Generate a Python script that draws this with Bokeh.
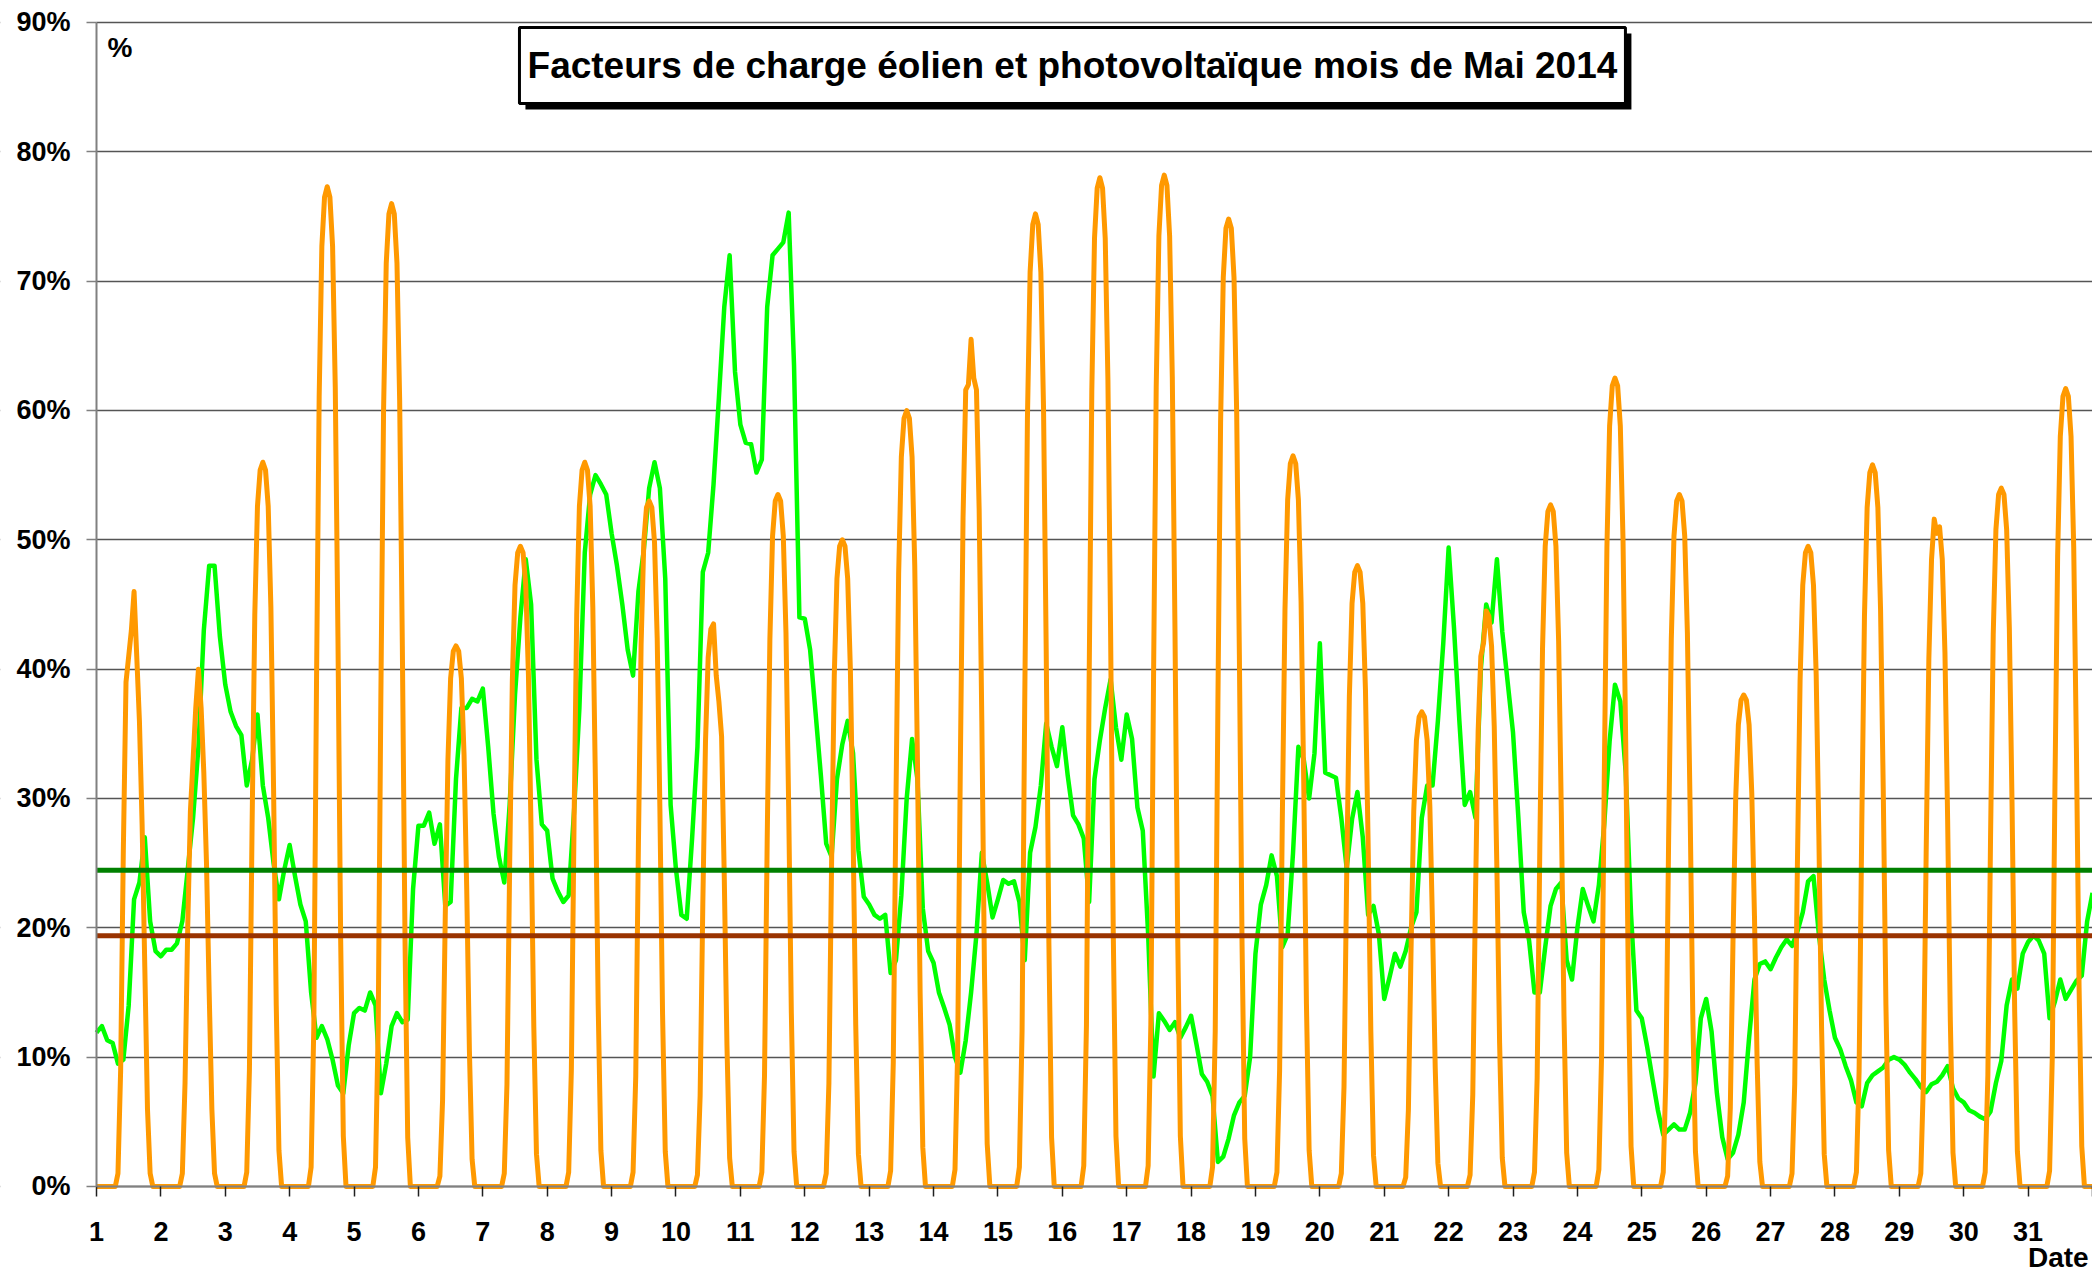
from bokeh.plotting import figure
from bokeh.models import Range1d, FixedTicker, PrintfTickFormatter, Label, BoxAnnotation
from bokeh.embed import file_html
from bokeh.resources import INLINE

# ---------------- data ----------------
days = list(range(1, 32))
wind_hours = [0, 2, 4, 6, 8, 10, 12, 14, 16, 18, 20, 22]
solar_hours = [8, 9, 10, 11, 12, 13, 14, 15, 16, 17, 18, 19, 20]

# wind load factor (%), one row per day, every 2 hours
wind_load = [
    [11.9, 12.4, 11.3, 11.1, 9.5, 9.8, 14.0, 22.2, 23.5, 27.0, 20.5, 18.2],
    [17.8, 18.3, 18.3, 18.8, 20.5, 24.5, 28.5, 34.0, 43.0, 48.0, 48.0, 42.5],
    [38.8, 36.7, 35.6, 34.9, 31.0, 33.0, 36.5, 31.0, 28.5, 25.0, 22.2, 24.5],
    [26.4, 24.0, 21.8, 20.5, 15.0, 11.5, 12.4, 11.4, 9.8, 7.8, 7.2, 10.9],
    [13.4, 13.8, 13.6, 15.0, 14.0, 7.2, 9.5, 12.4, 13.4, 12.7, 12.9, 23.0],
    [27.9, 27.9, 28.9, 26.5, 28.0, 21.7, 22.0, 31.5, 37.0, 37.0, 37.7, 37.5],
    [38.5, 34.0, 28.8, 25.5, 23.5, 29.5, 38.0, 44.0, 48.5, 45.0, 33.0, 28.0],
    [27.5, 23.8, 22.8, 22.0, 22.5, 29.0, 37.0, 49.0, 53.5, 55.0, 54.3, 53.5],
    [50.5, 48.0, 45.0, 41.5, 39.5, 46.0, 49.2, 54.0, 56.0, 54.0, 47.0, 29.5],
    [24.5, 21.0, 20.7, 26.9, 34.0, 47.5, 49.0, 54.3, 61.0, 68.0, 72.0, 63.0],
    [58.9, 57.5, 57.4, 55.2, 56.2, 68.0, 72.0, 72.5, 73.0, 75.3, 63.5, 44.0],
    [43.9, 41.5, 36.7, 31.8, 26.5, 25.5, 31.5, 34.2, 36.0, 33.5, 26.0, 22.4],
    [21.8, 21.0, 20.7, 21.0, 16.5, 17.5, 22.5, 30.0, 34.6, 31.5, 21.5, 18.2],
    [17.3, 15.0, 13.8, 12.5, 10.0, 8.8, 11.3, 15.0, 19.5, 25.8, 23.5, 20.8],
    [22.2, 23.7, 23.4, 23.6, 22.0, 17.5, 25.8, 27.8, 31.0, 35.8, 34.0, 32.5],
    [35.5, 31.8, 28.7, 28.0, 26.9, 22.0, 31.5, 34.5, 37.0, 39.2, 35.5, 33.0],
    [36.5, 34.6, 29.3, 27.5, 19.5, 8.5, 13.4, 12.8, 12.1, 12.7, 11.5, 12.3],
    [13.2, 11.0, 8.7, 8.1, 7.0, 1.9, 2.3, 3.7, 5.5, 6.5, 7.0, 10.0],
    [18.0, 21.8, 23.3, 25.6, 24.0, 18.5, 19.5, 25.8, 34.0, 33.0, 30.0, 33.5],
    [42.0, 32.0, 31.8, 31.6, 28.5, 24.6, 28.4, 30.5, 27.0, 21.0, 21.7, 19.5],
    [14.5, 16.2, 18.0, 17.0, 18.2, 20.0, 21.2, 28.5, 31.0, 31.0, 36.0, 42.0],
    [49.4, 43.2, 36.0, 29.5, 30.5, 28.5, 40.0, 45.0, 43.6, 48.5, 42.9, 39.0],
    [35.1, 28.5, 21.2, 19.0, 15.0, 15.0, 18.5, 21.7, 23.0, 23.5, 17.5, 16.0],
    [20.0, 23.0, 21.7, 20.5, 23.3, 28.0, 34.4, 38.8, 37.5, 32.0, 21.0, 13.6],
    [13.0, 10.8, 8.3, 5.9, 4.0, 4.4, 4.8, 4.4, 4.4, 5.7, 8.0, 13.0],
    [14.5, 12.0, 7.2, 3.8, 2.1, 2.6, 4.0, 6.5, 11.5, 16.0, 17.2, 17.4],
    [16.8, 17.7, 18.5, 19.1, 18.6, 19.7, 21.2, 23.6, 24.0, 19.5, 16.0, 13.6],
    [11.5, 10.6, 9.3, 8.2, 6.5, 6.2, 8.0, 8.6, 8.9, 9.2, 9.8, 10.0],
    [9.8, 9.4, 8.8, 8.3, 7.7, 7.3, 7.9, 8.1, 8.6, 9.3, 7.6, 6.8],
    [6.5, 5.9, 5.7, 5.4, 5.2, 5.8, 8.0, 9.7, 14.0, 16.0, 15.3, 18.0],
    [18.9, 19.4, 19.0, 18.0, 13.0, 14.3, 16.0, 14.5, 15.2, 15.9, 16.3, 20.5],
]
wind_end = 22.7  # value at the very end of the month

# photovoltaic load factor (%), hours 8h..20h of each day (0 outside)
solar_load = [
    [1, 9, 26, 39, 41, 43, 46, 41, 36, 28, 17, 6, 1],
    [1, 8, 20, 29, 33, 37, 40, 37, 32, 25, 15, 6, 1],
    [1.1, 9.0, 28.0, 44.2, 52.6, 55.4, 56.0, 55.4, 52.6, 44.8, 30.8, 14.0, 2.8],
    [1.5, 12.4, 38.7, 61.1, 72.7, 76.5, 77.3, 76.5, 72.7, 61.8, 42.5, 19.3, 3.9],
    [1.5, 12.2, 38.0, 60.0, 71.4, 75.2, 76.0, 75.2, 71.4, 60.8, 41.8, 19.0, 3.8],
    [0.8, 6.7, 20.9, 33.0, 39.3, 41.4, 41.8, 41.4, 39.3, 33.4, 23.0, 10.5, 2.1],
    [1.0, 7.9, 24.8, 39.1, 46.5, 49.0, 49.5, 49.0, 46.5, 39.6, 27.2, 12.4, 2.5],
    [1.1, 9.0, 28.0, 44.2, 52.6, 55.4, 56.0, 55.4, 52.6, 44.8, 30.8, 14.0, 2.8],
    [1.1, 8.5, 26.5, 41.9, 49.8, 52.5, 53.0, 52.5, 49.8, 42.4, 29.2, 13.3, 2.7],
    [0.9, 7.0, 21.8, 34.4, 40.9, 43.1, 43.5, 39.5, 37.5, 34.8, 23.9, 10.9, 2.2],
    [1.1, 8.6, 26.8, 42.3, 50.3, 53.0, 53.5, 53.0, 50.3, 42.8, 29.4, 13.4, 2.7],
    [1.0, 8.0, 25.0, 39.5, 47.0, 49.5, 50.0, 49.5, 47.0, 40.0, 27.5, 12.5, 2.5],
    [1.2, 9.6, 30.0, 47.4, 56.4, 59.4, 60.0, 59.4, 56.4, 48.0, 33.0, 15.0, 3.0],
    [1.3, 10.5, 32.8, 51.7, 61.6, 62.0, 65.5, 62.5, 61.6, 52.4, 36.0, 16.4, 3.3],
    [1.5, 12.0, 37.6, 59.4, 70.7, 74.4, 75.2, 74.4, 70.7, 60.2, 41.4, 18.8, 3.8],
    [1.6, 12.5, 39.0, 61.6, 73.3, 77.2, 78.0, 77.2, 73.3, 62.4, 42.9, 19.5, 3.9],
    [1.6, 12.5, 39.1, 61.8, 73.5, 77.4, 78.2, 77.4, 73.5, 62.6, 43.0, 19.6, 3.9],
    [1.5, 12.0, 37.4, 59.1, 70.3, 74.1, 74.8, 74.1, 70.3, 59.8, 41.1, 18.7, 3.7],
    [1.1, 9.0, 28.3, 44.6, 53.1, 55.9, 56.5, 55.9, 53.1, 45.2, 31.1, 14.1, 2.8],
    [1.0, 7.7, 24.0, 37.9, 45.1, 47.5, 48.0, 47.5, 45.1, 38.4, 26.4, 12.0, 2.4],
    [0.7, 5.9, 18.4, 29.0, 34.5, 36.3, 36.7, 36.3, 34.5, 29.4, 20.2, 9.2, 1.8],
    [0.9, 7.1, 22.3, 35.2, 41.0, 42.0, 44.5, 44.1, 41.8, 35.6, 24.5, 11.1, 2.2],
    [1.1, 8.4, 26.4, 41.6, 49.5, 52.2, 52.7, 52.2, 49.5, 42.2, 29.0, 13.2, 2.6],
    [1.3, 10.0, 31.3, 49.4, 58.8, 61.9, 62.5, 61.9, 58.8, 50.0, 34.4, 15.6, 3.1],
    [1.1, 8.6, 26.8, 42.3, 50.3, 53.0, 53.5, 53.0, 50.3, 42.8, 29.4, 13.4, 2.7],
    [0.8, 6.1, 19.0, 30.0, 35.7, 37.6, 38.0, 37.6, 35.7, 30.4, 20.9, 9.5, 1.9],
    [1.0, 7.9, 24.8, 39.1, 46.5, 49.0, 49.5, 49.0, 46.5, 39.6, 27.2, 12.4, 2.5],
    [1.1, 8.9, 27.9, 44.1, 52.5, 55.2, 55.8, 55.2, 52.5, 44.6, 30.7, 14.0, 2.8],
    [1.0, 8.3, 25.8, 40.8, 48.5, 51.6, 50.5, 51.0, 48.5, 41.3, 28.4, 12.9, 2.6],
    [1.1, 8.6, 27.0, 42.7, 50.8, 53.5, 54.0, 53.5, 50.8, 43.2, 29.7, 13.5, 2.7],
    [1.2, 9.9, 30.9, 48.7, 58.0, 61.1, 61.7, 61.1, 58.0, 49.4, 33.9, 15.4, 3.1],
]

mean_green = 24.46   # dark green horizontal reference
mean_brown = 19.38   # brown horizontal reference

y_ticks = [0, 10, 20, 30, 40, 50, 60, 70, 80, 90]
x_ticks = list(range(1, 33))
title_text = "Facteurs de charge éolien et photovoltaïque mois de Mai 2014"

# ---------------- build series ----------------
wind_x, wind_y = [], []
for d, row in zip(days, wind_load):
    for h, v in zip(wind_hours, row):
        wind_x.append(d + h / 24.0)
        wind_y.append(v)
wind_x.append(32)
wind_y.append(wind_end)

solar_x, solar_y = [], []
for d, row in zip(days, solar_load):
    vals = dict(zip(solar_hours, row))
    for h in range(24):
        solar_x.append(d + h / 24.0)
        solar_y.append(vals.get(h, 0.0))
solar_x.append(32)
solar_y.append(0.0)

# ---------------- figure ----------------
FONT = "Liberation Sans"
# the frame fills the whole canvas; both axes sit at fixed data locations
p = figure(width=2092, height=1274, x_range=Range1d(-0.491, 32), y_range=Range1d(-6.807, 91.701),
           output_backend="svg", toolbar_location=None,
           min_border_left=0, min_border_right=0, min_border_top=0, min_border_bottom=0)
p.outline_line_color = None
p.background_fill_color = "white"
p.border_fill_color = "white"

p.xgrid.visible = False
p.ygrid.ticker = FixedTicker(ticks=y_ticks)
p.ygrid.grid_line_color = "#555555"
p.ygrid.grid_line_width = 1.3

# white cover so grid lines start at the value axis
p.add_layout(BoxAnnotation(right=x_ticks[0], fill_color="white", fill_alpha=1.0,
                           line_color=None, level="underlay"))

p.yaxis.fixed_location = x_ticks[0]
p.yaxis.ticker = FixedTicker(ticks=y_ticks)
p.yaxis.bounds = (y_ticks[0], y_ticks[-1])
p.yaxis.formatter = PrintfTickFormatter(format="%d%%")
p.yaxis.axis_line_color = "#808080"
p.yaxis.axis_line_width = 2
p.yaxis.major_tick_line_color = "#808080"
p.yaxis.major_tick_line_width = 1.5
p.yaxis.major_tick_out = 10
p.yaxis.major_tick_in = 0
p.yaxis.minor_tick_line_color = None
p.yaxis.major_label_standoff = 16
p.yaxis.major_label_text_font = FONT
p.yaxis.major_label_text_font_style = "bold"
p.yaxis.major_label_text_font_size = "27px"
p.yaxis.major_label_text_color = "black"

p.xaxis.fixed_location = y_ticks[0]
p.xaxis.ticker = FixedTicker(ticks=x_ticks)
p.xaxis.bounds = (x_ticks[0], x_ticks[-1])
p.xaxis.major_label_overrides = {32: ""}
p.xaxis.axis_line_color = "#808080"
p.xaxis.axis_line_width = 2
p.xaxis.major_tick_line_color = "#202020"
p.xaxis.major_tick_line_width = 1.5
p.xaxis.major_tick_out = 10
p.xaxis.major_tick_in = 0
p.xaxis.minor_tick_line_color = None
p.xaxis.major_label_standoff = 26
p.xaxis.major_label_text_font = FONT
p.xaxis.major_label_text_font_style = "bold"
p.xaxis.major_label_text_font_size = "27px"
p.xaxis.major_label_text_color = "black"

# series
p.line(wind_x, wind_y, line_color="#00FF00", line_width=4.5, line_join="round")
p.line(solar_x, solar_y, line_color="#FF9900", line_width=5, line_join="round")

# reference lines, from the value axis to the right edge
p.segment(x0=[x_ticks[0]], x1=[x_ticks[-1]], y0=[mean_green], y1=[mean_green],
          line_color="#008000", line_width=5)
p.segment(x0=[x_ticks[0]], x1=[x_ticks[-1]], y0=[mean_brown], y1=[mean_brown],
          line_color="#993300", line_width=5)

# title box with shadow
p.add_layout(BoxAnnotation(left=7.662, right=24.839, top=89.15, bottom=83.28,
                           fill_color="black", fill_alpha=1.0, line_color=None))
p.add_layout(BoxAnnotation(left=7.569, right=24.746, top=89.61, bottom=83.74,
                           fill_color="white", fill_alpha=1.0, line_color="black", line_width=3,
                           line_alpha=1.0))
p.add_layout(Label(x=16.157, y=86.68, text=title_text, text_align="center",
                   text_baseline="middle", text_font=FONT, text_font_style="bold",
                   text_font_size="37px", text_color="black"))

# unit labels
p.add_layout(Label(x=1.171, y=88.1, text="%", text_align="left", text_baseline="middle",
                   text_font=FONT, text_font_style="bold", text_font_size="28px", text_color="black"))
p.add_layout(Label(x=31.94, y=-5.5, text="Date", text_align="right", text_baseline="middle",
                   text_font=FONT, text_font_style="bold", text_font_size="28px", text_color="black"))

open("out.html", "w").write(file_html(p, INLINE))
